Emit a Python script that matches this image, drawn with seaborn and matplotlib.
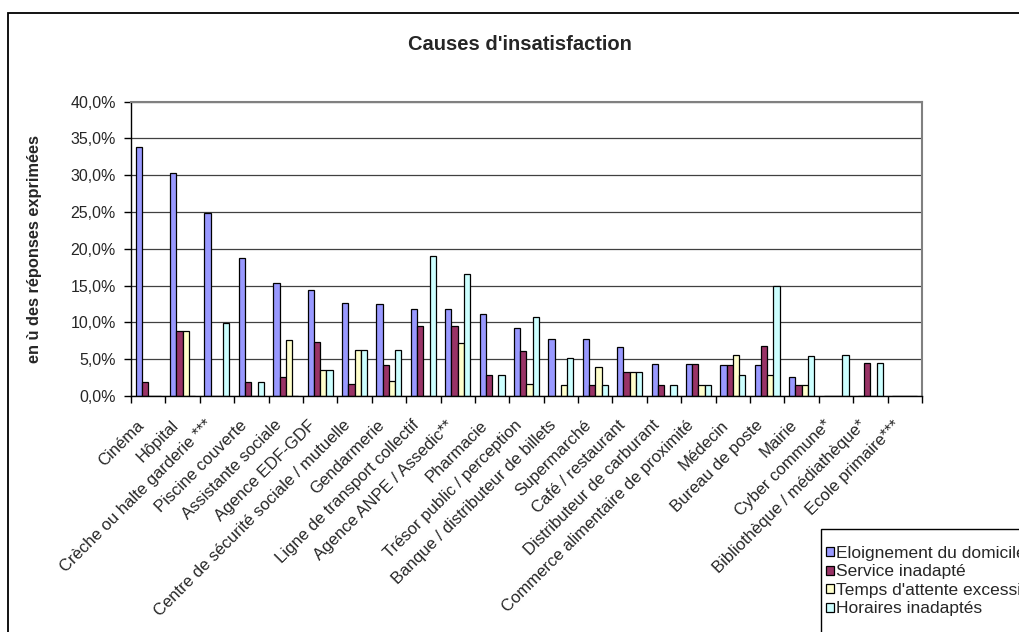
import matplotlib
matplotlib.use("Agg")
import matplotlib.pyplot as plt
import matplotlib.patches as mpatches
import matplotlib.transforms as mtransforms
from matplotlib.ticker import FuncFormatter, FixedLocator
import seaborn as sns
import pandas as pd
import numpy as np

# ----------------------------------------------------- DATA -----------------------------------------------------
categories = ["Cinéma", "Hôpital", "Crèche ou halte garderie ***", "Piscine couverte",
              "Assistante sociale", "Agence EDF-GDF", "Centre de sécurité sociale / mutuelle",
              "Gendarmerie", "Ligne de transport collectif", "Agence ANPE / Assedic**",
              "Pharmacie", "Trésor public / perception", "Banque / distributeur de billets",
              "Supermarché", "Café / restaurant", "Distributeur de carburant",
              "Commerce alimentaire de proximité", "Médecin", "Bureau de poste", "Mairie",
              "Cyber commune*", "Bibliothèque / médiathèque*", "Ecole primaire***"]

series_names = ["Eloignement du domicile", "Service inadapté",
                "Temps d'attente excessif", "Horaires inadaptés"]

eloignement = [33.9, 30.3, 24.9, 18.8, 15.4, 14.4, 12.7, 12.5, 11.8, 11.8, 11.1, 9.2,
               7.8, 7.8, 6.6, 4.35, 4.35, 4.2, 4.2, 2.6, 0, 0, 0]
service = [1.9, 8.9, 0, 1.9, 2.6, 7.3, 1.6, 4.2, 9.55, 9.55, 2.8, 6.1,
           0, 1.45, 3.3, 1.45, 4.35, 4.2, 6.8, 1.45, 0, 4.5, 0]
attente = [0, 8.9, 0, 0, 7.65, 3.6, 6.25, 2.1, 0, 7.2, 0, 1.6,
           1.45, 4.0, 3.3, 0, 1.45, 5.6, 2.8, 1.45, 0, 0, 0]
horaires = [0, 0, 9.9, 1.9, 0, 3.6, 6.25, 6.25, 19.0, 16.6, 2.8, 10.8,
            5.2, 1.45, 3.3, 1.45, 1.45, 2.8, 15.0, 5.4, 5.6, 4.5, 0]

colors = ["#9999FF", "#993366", "#FFFFCC", "#CCFFFF"]

# ----------------------------------------------------- TABLE ----------------------------------------------------
rows = []
for name, vals in zip(series_names, [eloignement, service, attente, horaires]):
    for cat, v in zip(categories, vals):
        rows.append({"cause": cat, "serie": name, "pct": v})
df = pd.DataFrame(rows)

# ----------------------------------------------------- PLOT -----------------------------------------------------
sns.set_style("white")
plt.rcParams["font.family"] = ["Liberation Sans", "DejaVu Sans"]

fig = plt.figure(figsize=(10.2, 6.32), dpi=100)
ax = fig.add_axes([131 / 1020, 1 - 396 / 632, (922 - 131) / 1020, (396 - 101.7) / 632])

sns.barplot(data=df, x="cause", y="pct", hue="serie", order=categories,
            hue_order=series_names, palette=colors, width=4 / 5.5, gap=0,
            errorbar=None, edgecolor="black", linewidth=0.9, saturation=1, ax=ax)

ax.set_xlim(-0.5, len(categories) - 0.5)
ax.set_ylim(0, 40)
ax.set_yticks(np.arange(0, 41, 5))
ax.yaxis.set_major_formatter(FuncFormatter(lambda v, p: f"{v:.1f}%".replace(".", ",")))
ax.yaxis.grid(True, color="#404040", lw=0.9)
ax.set_axisbelow(True)
ax.set_xlabel("")
ax.set_ylabel("")

ax.tick_params(axis="y", direction="out", length=5, width=1, color="black", pad=6, labelsize=11.5, left=True)
ax.set_xticks(range(len(categories)))
ax.set_xticklabels(categories, rotation=45, ha="right", rotation_mode="anchor", fontsize=12)
ax.tick_params(axis="x", which="major", length=0, pad=9)
ax.xaxis.set_minor_locator(FixedLocator(np.arange(-0.5, len(categories), 1)))
ax.tick_params(axis="x", which="minor", direction="out", length=5, width=1, color="black", bottom=True)

# shift the slanted labels a bit down-left, like Excel
shift = mtransforms.ScaledTranslation(-12 / 100, -9 / 100, fig.dpi_scale_trans)
for lab in ax.get_xticklabels():
    lab.set_transform(lab.get_transform() + shift)

for s in ["left", "bottom"]:
    ax.spines[s].set_color("black")
    ax.spines[s].set_linewidth(1)
for s in ["top", "right"]:
    ax.spines[s].set_color("#808080")
    ax.spines[s].set_linewidth(1.5)

handles, labels = ax.get_legend_handles_labels()
leg = ax.legend(handles, labels, loc="upper left", bbox_to_anchor=(826 / 1020, 1 - 546 / 632),
                bbox_transform=fig.transFigure, fontsize=12.5, frameon=False,
                handlelength=0.45, handleheight=0.45, handletextpad=0.1,
                labelspacing=0.2, borderpad=0, borderaxespad=0)

# legend box, cut by the image edge like the original
fig.patches.append(mpatches.Rectangle((821 / 1020, -0.1), 1.0, 1 - 529 / 632 + 0.1, transform=fig.transFigure,
                                      fill=False, edgecolor="black", lw=1))

fig.text(520 / 1020, 1 - 45 / 632, "Causes d'insatisfaction", ha="center", va="center",
         fontsize=14.5, fontweight="bold")
fig.text(35 / 1020, 1 - 249 / 632, "en ù des réponses exprimées", ha="center", va="center",
         rotation=90, fontsize=11.8, fontweight="bold")

# chart area border (cut by the image edge like the original)
fig.patches.append(mpatches.Rectangle((8 / 1020, -0.1), 1.2, 1 - 13 / 632 + 0.1, transform=fig.transFigure,
                                      fill=False, edgecolor="black", lw=1.3))

fig.savefig("out.png", dpi=100)
